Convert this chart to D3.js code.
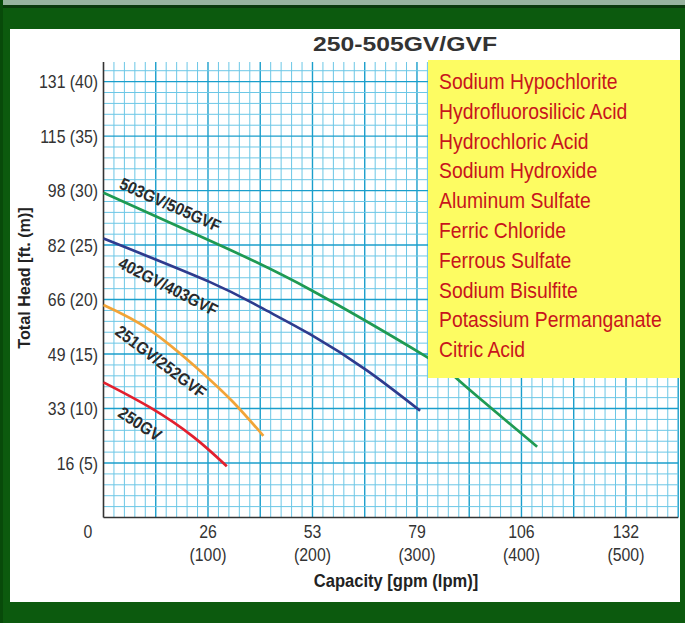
<!DOCTYPE html>
<html>
<head>
<meta charset="utf-8">
<script src="https://cdn.jsdelivr.net/npm/d3@7"></script>
<style>
  body { margin: 0; background: #0c5a0e; }
  svg { display: block; }
  text { font-family: "Liberation Sans", Arial, sans-serif; }
</style>
</head>
<body>
<svg id="chart"></svg>
<script>
// pump curves, capacity in lpm, head in metres
const green503Lpm = [0, 102, 198, 310, 341, 415];
const green503Head = [29.8, 25.4, 20.9, 14.7, 12.5, 6.5];
const blue402Lpm = [0, 102, 150, 198, 252, 303];
const blue402Head = [25.6, 21.6, 19.3, 16.8, 13.5, 9.8];
const orange251Lpm = [0, 44.5, 92, 124, 153];
const orange251Head = [19.5, 17.2, 13.5, 10.6, 7.5];
const red250Lpm = [0, 44.5, 86, 118];
const red250Head = [12.4, 10.1, 7.4, 4.7];

const curveNames = ["503GV/505GVF", "402GV/403GVF", "251GV/252GVF", "250GV"];
const curveColors = ["#1f9a52", "#2e3b8e", "#f2a437", "#e2202e"];
// label anchors (lpm, m) and rotation
const labelLpm = [64, 62, 55, 35];
const labelHead = [28.7, 21.2, 14.3, 8.6];
const labelAngle = [24, 27, 37, 33];

const headTicksM = [5, 10, 15, 20, 25, 30, 35, 40];
const headTicksFt = [16, 33, 49, 66, 82, 98, 115, 131];
const capTicksLpm = [100, 200, 300, 400, 500];
const capTicksGpm = [26, 53, 79, 106, 132];

const chemicals = ["Sodium Hypochlorite", "Hydrofluorosilicic Acid", "Hydrochloric Acid",
  "Sodium Hydroxide", "Aluminum Sulfate", "Ferric Chloride", "Ferrous Sulfate",
  "Sodium Bisulfite", "Potassium Permanganate", "Citric Acid"];

const W = 685, H = 623;
const svg = d3.select("#chart").attr("width", W).attr("height", H);

// condensed text: squeeze horizontally since no narrow font is around
function narrowText(parent, tx, ty, sx, rot) {
  return parent.append("g")
    .attr("transform", `translate(${tx},${ty})` + (rot ? ` rotate(${rot})` : "") + ` scale(${sx},1)`)
    .append("text");
}

// frame
svg.append("rect").attr("width", W).attr("height", H).attr("fill", "#0c5a0e");
svg.append("rect").attr("width", W).attr("height", 5).attr("fill", "#97b39f");
svg.append("rect").attr("y", 5).attr("width", W).attr("height", 3).attr("fill", "#0a3a0c");
svg.append("rect").attr("width", 3).attr("height", H).attr("fill", "#084a0a");
svg.append("rect").attr("x", 10).attr("y", 29).attr("width", 670).attr("height", 573).attr("fill", "#fff");

const x = d3.scaleLinear().domain([0, 550]).range([103.5, 678.2]);
const y = d3.scaleLinear().domain([0, 41.8]).range([517.5, 62]);

// grid
const g = svg.append("g");
g.selectAll(".vg").data(d3.range(10, 551, 10)).enter().append("line")
  .attr("x1", d => x(d)).attr("x2", d => x(d))
  .attr("y1", y(0)).attr("y2", y(41.8))
  .attr("stroke", d => d % 50 === 0 ? "#1a9ecb" : "#6cc7e6")
  .attr("stroke-width", d => d % 50 === 0 ? 1.4 : 1);
g.selectAll(".hg").data(d3.range(1, 42)).enter().append("line")
  .attr("x1", x(0)).attr("x2", x(550))
  .attr("y1", d => y(d)).attr("y2", d => y(d))
  .attr("stroke", d => d % 5 === 0 ? "#1a9ecb" : "#6cc7e6")
  .attr("stroke-width", d => d % 5 === 0 ? 1.4 : 1);

// axes lines
svg.append("line").attr("x1", x(0)).attr("x2", x(0)).attr("y1", y(41.8)).attr("y2", y(0))
  .attr("stroke", "#333").attr("stroke-width", 1.6);
svg.append("line").attr("x1", x(0)).attr("x2", x(550)).attr("y1", y(0)).attr("y2", y(0))
  .attr("stroke", "#333").attr("stroke-width", 1.6);

// y tick labels
headTicksM.forEach((m, i) => {
  narrowText(svg, 98, y(m), 0.88)
    .attr("dy", "0.36em").attr("text-anchor", "end")
    .attr("font-size", 18).attr("fill", "#333")
    .text(headTicksFt[i] + " (" + m + ")");
});

// x tick labels
capTicksLpm.forEach((v, i) => {
  narrowText(svg, x(v), 538, 0.88).attr("text-anchor", "middle")
    .attr("font-size", 18).attr("fill", "#333").text(capTicksGpm[i]);
  narrowText(svg, x(v), 561, 0.88).attr("text-anchor", "middle")
    .attr("font-size", 18).attr("fill", "#333").text("(" + v + ")");
});
narrowText(svg, 88, 538, 0.88).attr("text-anchor", "middle")
  .attr("font-size", 18).attr("fill", "#333").text("0");

// axis titles
narrowText(svg, 396, 587, 0.92)
  .attr("text-anchor", "middle").attr("font-size", 18).attr("font-weight", "bold")
  .attr("fill", "#222").text("Capacity [gpm (lpm)]");
narrowText(svg, 30, 278, 0.95, -90)
  .attr("text-anchor", "middle").attr("font-size", 17).attr("font-weight", "bold")
  .attr("fill", "#222").text("Total Head [ft. (m)]");

// title
svg.append("text").attr("x", 405).attr("y", 51).attr("text-anchor", "middle")
  .attr("font-size", 21).attr("font-weight", "bold").attr("fill", "#333")
  .attr("textLength", 184).attr("lengthAdjust", "spacingAndGlyphs")
  .text("250-505GV/GVF");

// curves
const series = [
  [green503Lpm, green503Head],
  [blue402Lpm, blue402Head],
  [orange251Lpm, orange251Head],
  [red250Lpm, red250Head]
];
const line = d3.line().x(d => x(d[0])).y(d => y(d[1])).curve(d3.curveNatural);
svg.selectAll(".curve").data(series).enter().append("path")
  .attr("d", s => line(d3.zip(s[0], s[1])))
  .attr("fill", "none")
  .attr("stroke", (d, i) => curveColors[i])
  .attr("stroke-width", 2.7);

// curve labels
curveNames.forEach((name, i) => {
  narrowText(svg, x(labelLpm[i]), y(labelHead[i]), 0.9, labelAngle[i])
    .attr("text-anchor", "middle").attr("dy", "0.35em")
    .attr("font-size", 17).attr("font-weight", "bold").attr("fill", "#2a2a2a")
    .text(name);
});

// legend box
svg.append("rect").attr("x", 428).attr("y", 60).attr("width", 252).attr("height", 318)
  .attr("fill", "#fdfc62");
chemicals.forEach((c, i) => {
  narrowText(svg, 439, 89 + i * 29.8, 0.88)
    .attr("font-size", 22).attr("fill", "#c8141c")
    .text(c);
});
</script>
</body>
</html>
